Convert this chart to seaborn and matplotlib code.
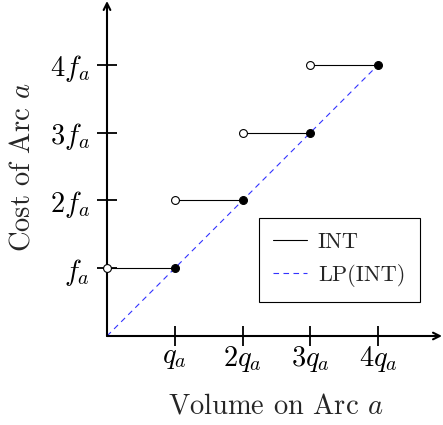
import numpy as np
import pandas as pd
import seaborn as sns
import matplotlib
matplotlib.use("Agg")
import matplotlib.pyplot as plt

sns.set_theme(style="white")
plt.rcParams['font.family'] = ['cmr10', 'DejaVu Serif']
plt.rcParams['mathtext.fontset'] = 'cm'
plt.rcParams['axes.unicode_minus'] = False

# data
step_start = [0, 1, 2, 3]        # open circle x
step_end = [1, 2, 3, 4]          # filled circle x
step_level = [1, 2, 3, 4]        # cost level
lp_x = [0, 4]
lp_y = [0, 4]
xtick_vals = [1, 2, 3, 4]
xtick_labels = [r'$q_a$', r'$2q_a$', r'$3q_a$', r'$4q_a$']
ytick_vals = [1, 2, 3, 4]
ytick_labels = [r'$f_a$', r'$2f_a$', r'$3f_a$', r'$4f_a$']

W, H = 443, 425
fig = plt.figure(figsize=(W / 100, H / 100), dpi=100)
x0, y0 = 107, 336
unit = 67.8
xmax_px, ytop_px = 442, 1
ax = fig.add_axes([x0 / W, (H - y0) / H, (xmax_px - x0) / W, (y0 - ytop_px) / H])
ax.set_xlim(0, (xmax_px - x0) / unit)
ax.set_ylim(0, (y0 - ytop_px) / unit)

# LP dashed line
df_lp = pd.DataFrame({'x': lp_x, 'y': lp_y})
sns.lineplot(data=df_lp, x='x', y='y', ax=ax, color='#3333ff', lw=0.8,
             linestyle=(0, (5, 4)), label='LP(INT)', zorder=2)

# INT step segments
for i, (a, b, lev) in enumerate(zip(step_start, step_end, step_level)):
    df_seg = pd.DataFrame({'x': [a, b], 'y': [lev, lev]})
    sns.lineplot(data=df_seg, x='x', y='y', ax=ax, color='black', lw=0.8,
                 label='INT' if i == 0 else None, zorder=3)

df_open = pd.DataFrame({'x': step_start, 'y': step_level})
df_fill = pd.DataFrame({'x': step_end, 'y': step_level})
sns.scatterplot(data=df_open, x='x', y='y', ax=ax, facecolor='white',
                edgecolor='black', linewidth=0.8, s=32, zorder=5, clip_on=False)
sns.scatterplot(data=df_fill, x='x', y='y', ax=ax, color='black',
                edgecolor='black', linewidth=0.8, s=32, zorder=5, clip_on=False)

# axes styling
for s in ['top', 'right', 'left', 'bottom']:
    ax.spines[s].set_visible(False)
ax.annotate('', xy=(1.0, 0), xytext=(0, 0), xycoords='axes fraction',
            arrowprops=dict(arrowstyle='->', color='black', lw=1.5,
                            mutation_scale=12, shrinkA=0, shrinkB=0))
ax.annotate('', xy=(0, 1.0), xytext=(0, 0), xycoords='axes fraction',
            arrowprops=dict(arrowstyle='->', color='black', lw=1.5,
                            mutation_scale=12, shrinkA=0, shrinkB=0))

ax.set_xticks(xtick_vals)
ax.set_xticklabels(xtick_labels, fontsize=20.5)
ax.set_yticks(ytick_vals)
ax.set_yticklabels(ytick_labels, fontsize=20.5)
ax.tick_params(axis='x', which='both', direction='inout', length=14,
               width=1.3, color='black', labelcolor='black', pad=-1,
               bottom=True)
ax.tick_params(axis='y', which='both', direction='inout', length=14,
               width=1.3, color='black', labelcolor='black', pad=5,
               left=True)
ax.set_xlabel(r'Volume on Arc $a$', fontsize=20.5)
ax.set_ylabel(r'Cost of Arc $a$', fontsize=20.5)
ax.xaxis.set_label_coords((276 - x0) / (xmax_px - x0), (y0 - 393) / (y0 - ytop_px))
ax.yaxis.set_label_coords((35 - x0) / (xmax_px - x0), (y0 - 167) / (y0 - ytop_px))

handles, labels = ax.get_legend_handles_labels()
order = [labels.index('INT'), labels.index('LP(INT)')]
leg = ax.legend([handles[i] for i in order], [labels[i] for i in order],
                loc='upper left', bbox_to_anchor=(259 / W, (H - 218) / H),
                bbox_transform=fig.transFigure, fontsize=16, frameon=True,
                fancybox=False, edgecolor='black', framealpha=1,
                handlelength=1.5, handletextpad=0.5, borderpad=0.65,
                labelspacing=0.55, borderaxespad=0)
leg.get_frame().set_linewidth(0.8)

fig.savefig('out.png', dpi=100)
